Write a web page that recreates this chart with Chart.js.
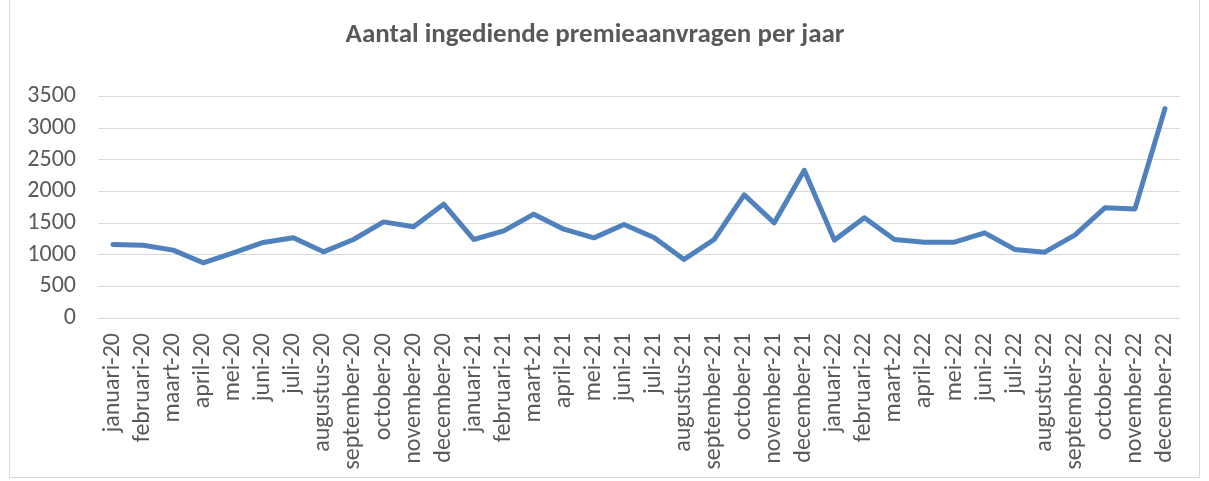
<!DOCTYPE html>
<html>
<head>
<meta charset="utf-8">
<script src="https://cdn.jsdelivr.net/npm/chart.js@4"></script>
<style>
  html, body { margin: 0; padding: 0; background: #fff; }
  #wrap { position: relative; width: 1209px; height: 481px; }
  #frame { position: absolute; left: 9px; top: -1px; width: 1191px; height: 479px; border: 1px solid #d9d9d9; box-sizing: border-box; }
</style>
</head>
<body>
<div id="wrap">
  <div id="frame"></div>
  <canvas id="chart" width="1209" height="481"></canvas>
</div>
<script>
// Chart data
const months = [
  'januari-20', 'februari-20', 'maart-20', 'april-20', 'mei-20', 'juni-20',
  'juli-20', 'augustus-20', 'september-20', 'october-20', 'november-20', 'december-20',
  'januari-21', 'februari-21', 'maart-21', 'april-21', 'mei-21', 'juni-21',
  'juli-21', 'augustus-21', 'september-21', 'october-21', 'november-21', 'december-21',
  'januari-22', 'februari-22', 'maart-22', 'april-22', 'mei-22', 'juni-22',
  'juli-22', 'augustus-22', 'september-22', 'october-22', 'november-22', 'december-22'
];
const aanvragen = [
  1162, 1150, 1072, 872, 1030, 1193, 1266, 1045, 1240, 1518, 1440, 1797,
  1240, 1377, 1640, 1403, 1266, 1477, 1272, 925, 1240, 1944, 1503, 2333,
  1230, 1582, 1240, 1198, 1198, 1345, 1083, 1040, 1309, 1740, 1720, 3306
];
const yMax = 3500;
const yStep = 500;

const textColor = '#595959';
const gridColor = '#d9d9d9';
const fontFamily = 'Carlito, Lato, "Liberation Sans", sans-serif';

const ctx = document.getElementById('chart');

new Chart(ctx, {
  type: 'line',
  data: {
    labels: months,
    datasets: [{
      label: 'Aantal aanvragen',
      data: aanvragen,
      borderColor: '#4f81bd',
      backgroundColor: '#4f81bd',
      borderWidth: 5,
      borderCapStyle: 'round',
      borderJoinStyle: 'round',
      pointRadius: 0,
      tension: 0
    }]
  },
  options: {
    responsive: false,
    animation: false,
    layout: {
      padding: { left: 0, right: 19, top: 0, bottom: 0 }
    },
    plugins: {
      legend: { display: false },
      tooltip: { enabled: false },
      title: {
        display: true,
        text: 'Aantal ingediende premieaanvragen per jaar',
        color: textColor,
        font: { family: fontFamily, size: 27, weight: 'bold', lineHeight: 1.2 },
        padding: { top: 19, bottom: 45 }
      }
    },
    scales: {
      x: {
        offset: true,
        grid: { display: false, drawTicks: false },
        border: { display: false },
        ticks: {
          color: textColor,
          font: { family: fontFamily, size: 24 },
          minRotation: 90,
          maxRotation: 90,
          autoSkip: false,
          padding: 15
        },
        afterFit: (scale) => { scale.height = 163; }
      },
      y: {
        min: 0,
        max: yMax,
        grid: { color: gridColor, lineWidth: 1, drawTicks: false },
        border: { display: false },
        ticks: {
          stepSize: yStep,
          autoSkip: false,
          color: textColor,
          font: { family: fontFamily, size: 24 },
          padding: 22,
          callback: (value) => String(value)
        },
        afterFit: (scale) => { scale.width = 98; }
      }
    }
  }
});
</script>
</body>
</html>
